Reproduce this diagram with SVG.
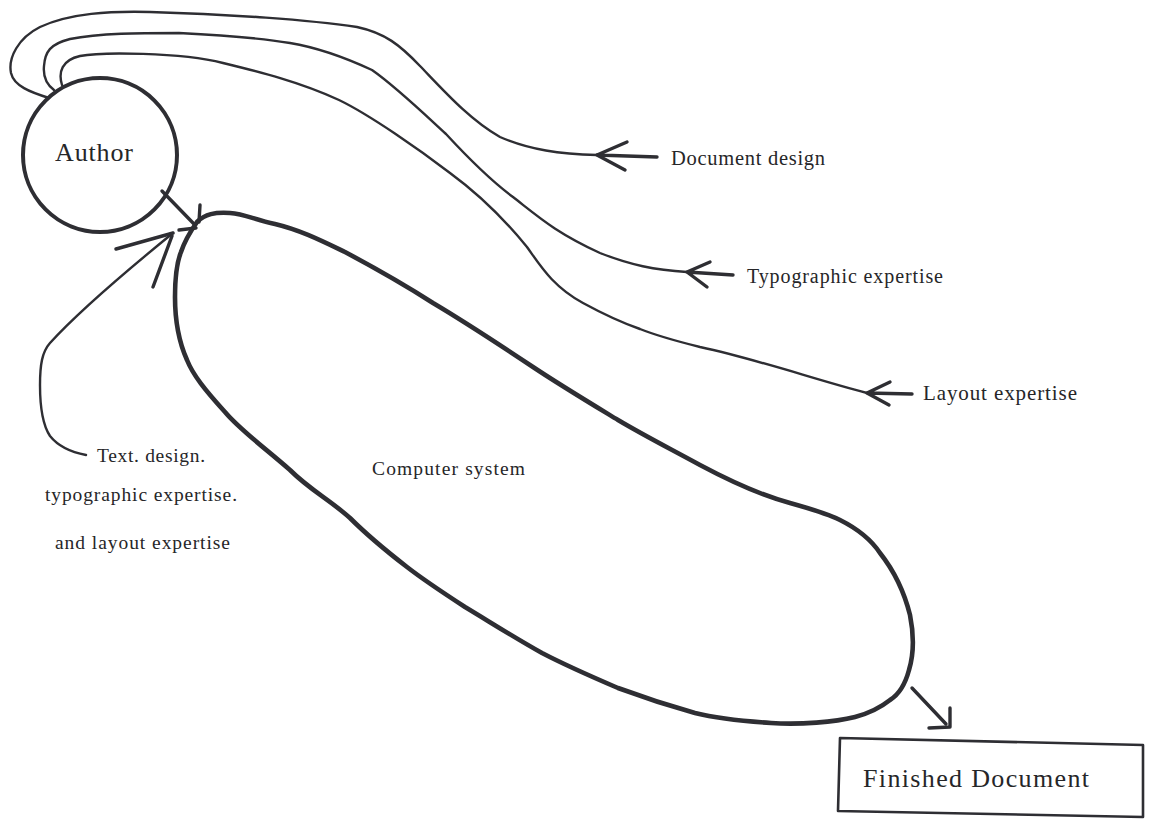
<svg xmlns="http://www.w3.org/2000/svg" width="1152" height="821" viewBox="0 0 1152 821">
<style>
.thin{fill:none;stroke:#2e2e33;stroke-width:2.4;stroke-linecap:round;stroke-linejoin:round}
.mid{fill:none;stroke:#2e2e33;stroke-width:3.4;stroke-linecap:round;stroke-linejoin:round}
.thick{fill:none;stroke:#2e2e33;stroke-width:4.6;stroke-linecap:round;stroke-linejoin:round}
.t{font-family:"Liberation Serif","Times New Roman",serif;fill:#262628}
</style>
<rect width="1152" height="821" fill="#ffffff"/>
<g id="connectors">
  <!-- Document design -->
  <path class="thin" d="M49,98 C30,92 14,86 11,73 C8,58 18,38 40,27 C70,13 110,11 150,12 C230,14 310,20 357,27 C385,33 400,45 420,66 C445,92 470,120 500,137 C530,150 560,154 597,155"/>
  <path class="mid" d="M597,155 L657,157 M597,155 L627,142 M597,155 L625,170"/>
  <!-- Typographic expertise -->
  <path class="thin" d="M54,90 C46,84 43,76 44,66 C45,52 50,44 70,39 C100,33 140,33 179,33 C220,35 260,38 290,43 C320,48 344,57 372,70 C395,86 420,110 446,134 C470,160 490,180 513,197 C540,218 555,232 600,253 C630,265 655,270 687,272"/>
  <path class="mid" d="M687,272 L733,275 M687,272 L710,262 M687,272 L707,287"/>
  <!-- Layout expertise -->
  <path class="thin" d="M62,85 C58,72 62,60 80,56 C100,52 180,52 223,63 C260,72 300,82 339,100 C370,115 420,150 450,173 C480,195 505,220 527,247 C540,265 552,286 583,303 C605,315 620,322 640,329 C660,337 680,342 700,347 C760,360 810,378 867,393"/>
  <path class="mid" d="M867,393 L912,394 M867,393 L890,382 M867,393 L889,405"/>
  <!-- Author to computer system -->
  <path class="mid" d="M162,191 L194,224"/>
  <path class="mid" d="M200,205 L199,222 M179,230 L196,228"/>
  <!-- Left input -->
  <path class="thin" d="M86,455 C70,452 58,446 50,436 C42,424 40,405 40,385 C40,365 42,352 50,343 C80,310 130,268 173,233"/>
  <path class="mid" d="M173,233 L116,249 M172,236 L153,287"/>
  <!-- To finished document -->
  <path class="mid" d="M912,688 L946,724"/>
  <path class="mid" d="M950,708 L950,727 L929,728"/>
</g>
<g id="author">
  <circle cx="100" cy="155" r="77" fill="none" stroke="#2e2e33" stroke-width="4"/>
  <text class="t" x="55" y="161" font-size="26" textLength="78" fill="#4a4a4c">Author</text>
</g>
<g id="computer-system">
  <path class="thick" d="M197,222 C205,214 215,212 230,213 C245,214 255,220 275,224 C300,230 320,240 345,252 C375,268 405,285 433,303 C465,322 500,345 533,367 C560,385 590,403 618,420 C645,436 665,446 700,465 C730,481 760,495 790,503 C815,510 830,515 840,520 C860,530 872,541 880,553 C895,572 905,595 910,615 C915,640 912,660 909,670 C905,685 898,695 890,700 C880,708 870,713 855,717 C835,722 800,725 771,723 C740,721 715,718 695,713 C670,706 645,698 618,688 C590,676 565,665 542,653 C515,638 490,622 465,607 C445,594 425,581 407,567 C385,550 365,533 350,518 C330,500 310,490 290,470 C265,448 240,430 225,412 C205,390 193,375 187,360 C178,340 175,318 175,297 C175,275 177,262 181,252 C185,240 190,232 197,222 Z"/>
  <text class="t" x="372" y="475" font-size="19.5" textLength="153">Computer system</text>
</g>
<g id="document-design-label">
  <text class="t" x="671" y="165" font-size="20.5" textLength="154">Document design</text>
</g>
<g id="typographic-expertise-label">
  <text class="t" x="747" y="283" font-size="20" textLength="196">Typographic expertise</text>
</g>
<g id="layout-expertise-label">
  <text class="t" x="923" y="400" font-size="21" textLength="154">Layout expertise</text>
</g>
<g id="text-design-label">
  <text class="t" x="97" y="462" font-size="19.5" textLength="108">Text. design.</text>
  <text class="t" x="45" y="501" font-size="19.5" textLength="192">typographic expertise.</text>
  <text class="t" x="55" y="549" font-size="19.5" textLength="175">and layout expertise</text>
</g>
<g id="finished-document">
  <path d="M840,738 L1143,745 L1143,817 L838,811 Z" fill="none" stroke="#2e2e33" stroke-width="2.6" stroke-linejoin="round"/>
  <text class="t" x="863" y="787" font-size="26" textLength="226" fill="#3a3a3c">Finished Document</text>
</g>
</svg>
